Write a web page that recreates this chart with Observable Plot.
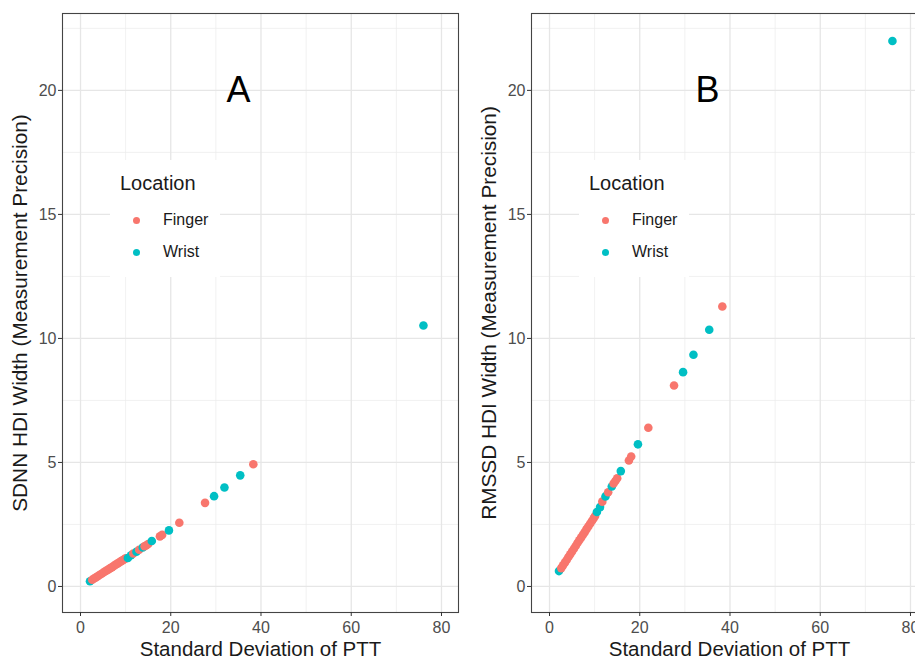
<!DOCTYPE html>
<html><head><meta charset="utf-8">
<script src="https://cdn.jsdelivr.net/npm/d3@7"></script>
<script src="https://cdn.jsdelivr.net/npm/@observablehq/plot@0.6"></script>
<style>
html,body{margin:0;padding:0;background:#fff}
body{width:915px;height:658px;overflow:hidden;font-family:"Liberation Sans",Arial,Helvetica,sans-serif}
#wrap{position:relative;width:915px;height:658px;overflow:hidden}
.panel{position:absolute;top:0;width:465px;height:658px}
.panel svg{max-width:none !important;width:465px;height:658px;display:block}
.legend{position:absolute;background:#fff;width:110px;height:117px}
.legend .lt{position:absolute;left:10px;top:11px;font-size:20px;line-height:24px;color:#1a1a1a}
.legend .it{position:absolute;left:0;height:24px;width:110px}
.legend .it span.dot{position:absolute;left:22.5px;top:8.5px;width:7.5px;height:7.5px;border-radius:50%}
.legend .it span.lb{position:absolute;left:53px;top:2px;font-size:16px;line-height:20px;color:#1a1a1a}
</style></head><body><div id="wrap"></div>
<script>
// Finger measurements
const fingerPTT   = [2.6,3.0,3.4,3.8,4.2,4.6,5.0,5.4,5.8,6.2,6.6,7.0,7.4,7.8,8.2,8.6,9.0,9.4,9.8,10.1,11.7,13.0,14.2,14.6,15.0,17.6,18.1,21.9,27.6,38.3];
const fingerSDNN  = [0.27,0.32,0.36,0.41,0.46,0.50,0.55,0.60,0.64,0.69,0.74,0.78,0.83,0.88,0.92,0.97,1.02,1.06,1.11,1.14,1.33,1.48,1.62,1.66,1.71,2.02,2.08,2.57,3.37,4.93];
const fingerRMSSD = [0.74,0.85,0.96,1.07,1.19,1.30,1.41,1.52,1.63,1.75,1.86,1.97,2.08,2.19,2.31,2.42,2.53,2.64,2.75,2.84,3.42,3.80,4.15,4.25,4.36,5.08,5.24,6.40,8.10,11.29];
// Wrist measurements
const wristPTT   = [2.1,10.5,11.2,12.4,13.8,15.8,19.6,29.6,31.9,35.4,76.0];
const wristSDNN  = [0.21,1.15,1.26,1.40,1.57,1.83,2.26,3.64,3.99,4.48,10.52];
const wristRMSSD = [0.62,3.00,3.20,3.63,4.03,4.65,5.73,8.64,9.34,10.35,21.99];

const locations = ["Finger","Wrist"];
const colors = ["#F8766D","#00BFC4"];
const xTicks = [0,20,40,60,80];
const xMinor = [10,30,50,70];
const yTicks = [0,5,10,15,20];
const yMinor = [2.5,7.5,12.5,17.5,22.5];
const xDomain = [-3.99, 83.77];
const yDomain = [-1.05, 23.1];
const xTitle = "Standard Deviation of PTT";
const panels = [
  {key:"sdnn", ylabel:"SDNN HDI Width (Measurement Precision)", letter:"A", left:0},
  {key:"rmssd", ylabel:"RMSSD HDI Width (Measurement Precision)", letter:"B", left:469}
];
const letterPos = {x:35, y:20};

const rows = [
  ...fingerPTT.map((v,i)=>({ptt:v, sdnn:fingerSDNN[i], rmssd:fingerRMSSD[i], loc:"Finger"})),
  ...wristPTT.map((v,i)=>({ptt:v, sdnn:wristSDNN[i], rmssd:wristRMSSD[i], loc:"Wrist"}))
].sort((a,b)=>a.ptt-b.ptt);

const wrap = document.getElementById("wrap");
const font = '"Liberation Sans",Arial,Helvetica,sans-serif';

for (const p of panels) {
  const chart = Plot.plot({
    width: 465, height: 658,
    marginLeft: 62, marginRight: 7, marginTop: 13, marginBottom: 46,
    style: {fontFamily: font, background: "transparent", overflow: "visible", maxWidth: "none"},
    x: {domain: xDomain, label: null},
    y: {domain: yDomain, label: null},
    color: {domain: locations, range: colors},
    marks: [
      Plot.gridX(xMinor, {stroke:"#ebebeb", strokeOpacity:1, strokeWidth:0.7}),
      Plot.gridY(yMinor, {stroke:"#ebebeb", strokeOpacity:1, strokeWidth:0.7}),
      Plot.gridX(xTicks, {stroke:"#e6e6e6", strokeOpacity:1, strokeWidth:1.3}),
      Plot.gridY(yTicks, {stroke:"#e6e6e6", strokeOpacity:1, strokeWidth:1.3}),
      Plot.dot(rows, {x:"ptt", y:p.key, fill:"loc", r:4.3}),
      Plot.text([p.letter], {x:()=>letterPos.x, y:()=>letterPos.y, fontSize:36, fill:"#000"}),
      Plot.frame({stroke:"#444", strokeWidth:1.1}),
      Plot.axisX(xTicks, {tickSize:4, tickPadding:5, stroke:"#333", fill:"#4d4d4d", fontSize:16, label:null}),
      Plot.axisY(yTicks, {tickSize:4, tickPadding:2, stroke:"#333", fill:"#4d4d4d", fontSize:16, label:null}),
      Plot.text([xTitle], {frameAnchor:"bottom", lineAnchor:"middle", dy:37, fontSize:20.5, fill:"#1a1a1a"}),
      Plot.text([p.ylabel], {frameAnchor:"left", textAnchor:"middle", lineAnchor:"middle", dx:-42, rotate:-90, fontSize:20.8, fill:"#1a1a1a"})
    ]
  });
  const div = document.createElement("div");
  div.className = "panel";
  div.style.left = p.left + "px";
  div.appendChild(chart);
  // legend
  const lg = document.createElement("div");
  lg.className = "legend";
  lg.style.left = "110px"; lg.style.top = "160px";
  const lt = document.createElement("div"); lt.className = "lt"; lt.textContent = "Location";
  lg.appendChild(lt);
  locations.forEach((loc,i)=>{
    const it = document.createElement("div"); it.className = "it";
    it.style.top = (48 + i*32) + "px";
    const d = document.createElement("span"); d.className="dot"; d.style.background = colors[i];
    const l = document.createElement("span"); l.className="lb"; l.textContent = loc;
    it.appendChild(d); it.appendChild(l); lg.appendChild(it);
  });
  div.appendChild(lg);
  wrap.appendChild(div);
}
</script>
</body></html>
